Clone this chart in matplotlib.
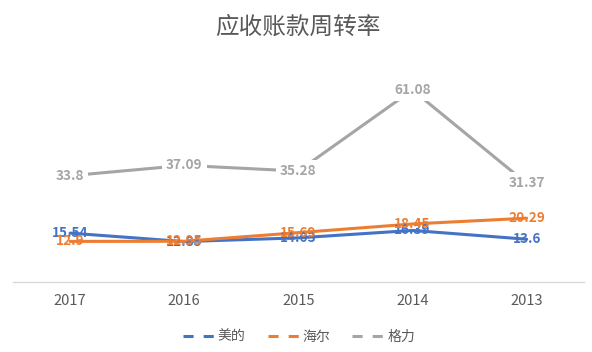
import matplotlib
matplotlib.use("Agg")
import matplotlib.pyplot as plt

plt.rcParams['font.family'] = ['Noto Sans CJK SC', 'DejaVu Sans']

title = "应收账款周转率"
years = ["2017", "2016", "2015", "2014", "2013"]
series_names = ["美的", "海尔", "格力"]
midea = [15.54, 12.85, 14.03, 16.39, 13.6]
haier = [12.9, 12.95, 15.69, 18.45, 20.29]
gree = [33.8, 37.09, 35.28, 61.08, 31.37]
colors = ["#4472C4", "#ED7D31", "#A5A5A5"]

fig = plt.figure(figsize=(5.92, 3.52), dpi=100)
ax = fig.add_axes([0.022, 0.199, 0.964, 0.625])
x = list(range(len(years)))

data = [midea, haier, gree]
for i, (vals, c, name) in enumerate(zip(data, colors, series_names)):
    ax.plot(x, vals, color=c, lw=2.2, solid_capstyle='round', label=name,
            zorder=2 + i * 0.1)

# data labels drawn after lines, gray ones with white backgrounds
for i, (vals, c) in enumerate(zip(data, colors)):
    for xi, v in zip(x, vals):
        ax.text(xi, v, f"{v:g}", color=c, fontsize=9.8, fontweight='bold',
                ha='center', va='center', zorder=5 + i,
                bbox=dict(boxstyle='square,pad=0.3', fc='white', ec='none') if i == 2 else None)

ax.set_xlim(-0.5, len(years) - 0.5)
ax.set_ylim(0, 70)
ax.set_xticks(x)
ax.set_xticklabels(years, color="#595959", fontsize=10.5)
ax.tick_params(axis='x', length=0, pad=9)
ax.set_yticks([])
for s in ['top', 'right', 'left']:
    ax.spines[s].set_visible(False)
ax.spines['bottom'].set_color("#D9D9D9")
ax.spines['bottom'].set_linewidth(1)

fig.text(0.503, 0.922, title, ha='center', va='center', fontsize=17, color="#595959")

handles = [plt.Line2D([0], [0], color=c, lw=2.2, ls=(0, (3.3, 3.3))) for c in colors]
leg = fig.legend(handles, series_names, loc='center', bbox_to_anchor=(0.505, 0.043),
                 ncol=3, frameon=False, fontsize=10, handlelength=2.4,
                 columnspacing=1.6, handletextpad=0.1)
for t in leg.get_texts():
    t.set_color("#595959")

fig.savefig("out.png", dpi=100, facecolor='white')
